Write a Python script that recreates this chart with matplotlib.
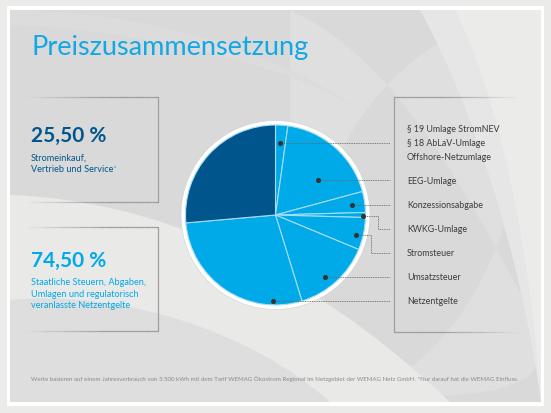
import numpy as np
import matplotlib
matplotlib.use("Agg")
import matplotlib.pyplot as plt
from matplotlib.patches import Rectangle, Circle, PathPatch
from matplotlib.path import Path
from matplotlib.collections import LineCollection

plt.rcParams['font.family'] = ['Lato', 'DejaVu Sans']

# data (share of the price, %)
slice_names = ["§ 19 / § 18 / Offshore", "EEG-Umlage", "Konzessionsabgabe", "KWKG-Umlage",
               "Stromsteuer", "Umsatzsteuer", "Netzentgelte", "Stromeinkauf, Vertrieb und Service"]
slice_values = [2.2, 18.6, 3.75, 0.9, 5.8, 14.0, 28.35, 26.4]
right_labels = ["§ 19 Umlage StromNEV", "§ 18 AbLaV-Umlage", "Offshore-Netzumlage", "EEG-Umlage",
                "Konzessionsabgabe", "KWKG-Umlage", "Stromsteuer", "Umsatzsteuer", "Netzentgelte"]
share_own = "25,50 %"
share_state = "74,50 %"

LIGHT = "#00a9e8"
DARK = "#00568c"
H = 413


def Y(y):
    return H - y


fig = plt.figure(figsize=(5.51, 4.13), dpi=100)
fig.patch.set_facecolor("#ebebe9")
ax = fig.add_axes([0, 0, 1, 1])
ax.set_xlim(0, 551)
ax.set_ylim(0, H)

# white frame + panel
ax.add_patch(Rectangle((7, Y(406)), 537, 400, fc="white", ec="none", zorder=0))
ax.add_patch(Rectangle((10, Y(402)), 531, 392, fc="#d9d9d9", ec="none", zorder=0.1))

clip = Rectangle((10, Y(402)), 531, 392, transform=ax.transData)
# swooshes in the background
bands = [
    ([(290, 10), (400, 60), (470, 200), (541, 330),
      (541, 402), (541, 402), (10, 402), (10, 402), (10, 402), (300, 402), (541, 402),
      (541, 10), (541, 10), (541, 10), (290, 10), (290, 10)], "#dfdfdf"),
    ([(420, 10), (470, 100), (520, 250), (541, 402), (541, 402), (541, 10), (541, 10),
      (541, 10), (460, 10), (420, 10), (420, 10), (420, 10), (420, 10)], "#e6e6e6"),
    ([(455, 10), (500, 100), (530, 250), (541, 402), (541, 402), (541, 10), (541, 10),
      (541, 10), (480, 10), (455, 10), (455, 10), (455, 10), (455, 10)], "#ebebea"),
    ([(10, 195), (150, 200), (300, 260), (450, 402), (450, 402), (10, 402), (10, 402),
      (10, 402), (10, 250), (10, 195), (10, 195), (10, 195), (10, 195)], "#e9e9e8"),
    ([(10, 300), (120, 290), (250, 330), (330, 402), (330, 402), (10, 402), (10, 402),
      (10, 402), (10, 350), (10, 300), (10, 300), (10, 300), (10, 300)], "#dedede"),
    ([(10, 10), (120, 10), (260, 40), (360, 110), (300, 70), (150, 30), (10, 25),
      (10, 25), (10, 20), (10, 10), (10, 10), (10, 10), (10, 10)], "#dcdcdc"),
]
for pts, col in bands:
    n = len(pts)
    verts = [(x, Y(y)) for x, y in pts]
    codes = [Path.MOVETO] + [Path.CURVE4] * (n - 2) + [Path.CLOSEPOLY]
    p = PathPatch(Path(verts, codes), fc=col, ec="none", zorder=0.2)
    ax.add_patch(p)
    p.set_clip_path(clip)

# pie
cx, cy, r = 275.5, Y(215), 90
ax.add_patch(Circle((cx, cy), r + 4.5, fc="white", ec="#d0d0d0", lw=0.4, zorder=1))
colors = [LIGHT] * 7 + [DARK]
wedges, _ = ax.pie(slice_values, colors=colors, startangle=90, counterclock=False,
                   center=(cx, cy), radius=r,
                   wedgeprops=dict(edgecolor="#a6dcf3", linewidth=0.8))
for w in wedges:
    w.set_zorder(2)
ax.set_xlim(0, 551)
ax.set_ylim(0, H)
ax.set_aspect("auto")

# leader lines (anchor angle, radius fraction, label y, elbow x)
label_x = 407
line_end = 390
anchors = [(86.4, 0.80, 143.3, None), (39.0, 0.61, 181, None), (7.6, 0.86, 205, None),
           (-0.6, 0.975, 229.3, 378.3), (-14.2, 0.92, 253, 370.7), (-51.2, 0.88, 277.3, None),
           (-91.5, 0.96, 301.3, None)]
for ang, fr, ly, ex in anchors:
    px = cx + fr * r * np.cos(np.radians(ang))
    py = cy + fr * r * np.sin(np.radians(ang))
    if ex is None:
        xs, ys = [px, line_end], [py, py]
    else:
        xs, ys = [px, ex, ex, line_end], [py, py, Y(ly), Y(ly)]
    ax.plot(xs, ys, color="#6a6a6a", lw=0.6, ls=(0, (1.2, 0.9)), zorder=3)
    ax.plot(px, py, "o", ms=2.6, color="#333333", zorder=4)

label_y = [129.3, 143.3, 157, 181, 205, 229.3, 253, 277.3, 301.3]
for txt, ly in zip(right_labels, label_y):
    ax.text(label_x, Y(ly), txt, fontsize=6.4, color="#3c3c3c", va="center", ha="left", zorder=5)


def fade_line(x0, x1, y, fade_left, col=(0.6, 0.6, 0.6)):
    xs = np.linspace(x0, x1, 60)
    segs = [[(xs[i], Y(y)), (xs[i + 1], Y(y))] for i in range(len(xs) - 1)]
    t = np.linspace(0, 1, len(segs))
    alpha = t if fade_left else 1 - t
    alpha = np.clip(alpha * 1.6, 0, 1)
    cols = [(col[0], col[1], col[2], a) for a in alpha]
    ax.add_collection(LineCollection(segs, colors=cols, linewidths=0.9, zorder=3))


# left boxes
for top, bot in [(96.7, 202), (226.7, 331)]:
    fade_line(25, 157.7, top, True)
    fade_line(25, 157.7, bot, True)
    ax.plot([157.7, 157.7], [Y(top), Y(bot)], color="#a0a0a0", lw=0.9, zorder=3)

# right box
fade_line(394, 520, 97, False)
fade_line(394, 520, 332, False)
ax.plot([394, 394], [Y(97), Y(332)], color="#a0a0a0", lw=0.9, zorder=3)

# texts
ax.text(31, Y(47), "Preiszusammensetzung", fontsize=19.5, color="#12a8e6", va="center", ha="left", zorder=5)
ax.text(31, Y(136), share_own, fontsize=15, fontweight="bold", color=DARK, va="center", ha="left", zorder=5)
ax.text(31, Y(157.7), "Stromeinkauf,", fontsize=6.6, color=DARK, va="center", ha="left", zorder=5)
svc = ax.text(31, Y(169.3), "Vertrieb und Service", fontsize=6.6, color=DARK, va="center", ha="left", zorder=5)
fig.canvas.draw()
bb = svc.get_window_extent().transformed(ax.transData.inverted())
ax.text(bb.x1 + 0.6, bb.y1 - 0.5, "*", fontsize=3.8, color=DARK, va="top", ha="left", zorder=5)
ax.text(31, Y(260.7), share_state, fontsize=15, fontweight="bold", color=LIGHT, va="center", ha="left", zorder=5)
for i, ln in enumerate(["Staatliche Steuern, Abgaben,", "Umlagen und regulatorisch",
                        "veranlasste Netzentgelte"]):
    ax.text(31, Y(282.7 + i * 11.4), ln, fontsize=6.6, color=LIGHT, va="center", ha="left", zorder=5)

ax.text(31, Y(379), "Werte basieren auf einem Jahresverbrauch von 3.500 kWh mit dem Tarif WEMAG Ökostrom "
        "Regional im Netzgebiet der WEMAG Netz GmbH. *Nur darauf hat die WEMAG Einfluss.",
        fontsize=4.45, color="#8a8a8a", va="center", ha="left", zorder=5)

ax.axis("off")
fig.savefig("out.png", dpi=100, facecolor=fig.get_facecolor())
